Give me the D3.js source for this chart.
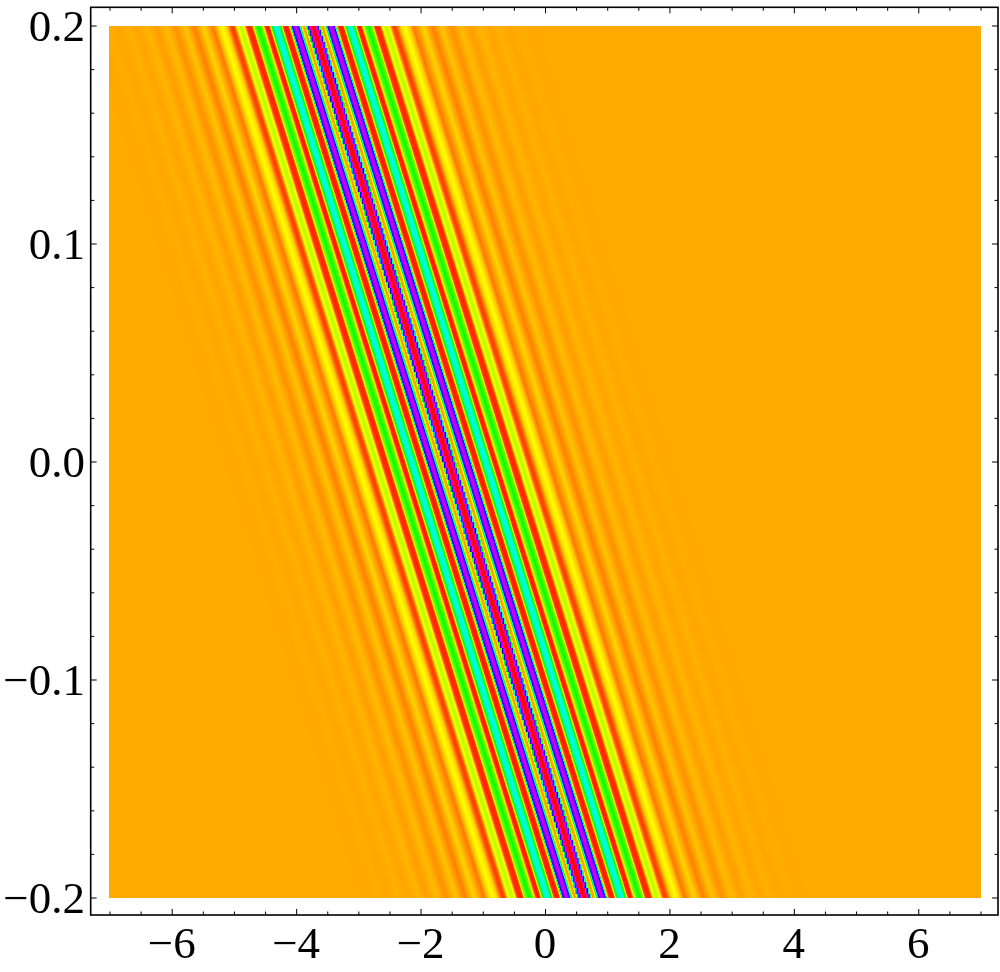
<!DOCTYPE html>
<html><head><meta charset="utf-8">
<script src="https://cdn.jsdelivr.net/npm/d3@7"></script>
<style>
html,body{margin:0;padding:0;background:#fff}
#wrap{position:relative;width:1000px;height:972px;overflow:hidden}
canvas,svg{position:absolute;left:0;top:0}
text{font-family:"Liberation Serif",serif;font-size:45px;fill:#000}
</style></head><body><div id="wrap"><canvas id="c" width="1000" height="972"></canvas><svg id="s" width="1000" height="972"></svg></div>
<script>
// Stripe profile: distance (x units) from the central stripe, and hue in degrees
const bandOffset=[0,.035,.060,.085,.108,.135,.165,.190,.235,.258,.281,.310,.340,.372,.402,.442,.482,.514,.555,.595,.635,.675,.707,.740,.772,.820,.884,.949,.985,1.029,1.073,1.109,1.166,1.222,1.270,1.302,1.334,1.399,1.471,1.543,1.608,1.768,1.913,2.058,2.219,2.363,2.524,2.669,2.830,2.974,3.135,3.296,3.457,3.618];
const bandHue=[360,350,285,240,120,35,40,70,250,278,290,278,250,70,12,5,12,100,165,172,165,100,12,5,12,90,120,90,14,8,14,60,78,60,20,14,20,50,60,48,28,50,30,46,34,44,37,42.5,38.5,41.5,39,40.7,39.5,40];
const stripeCentre=-1.55;   // x of the central stripe at y = 0
const stripeTilt=-10.9;     // change of x per unit y
const xDomain=[-7,7], yDomain=[-0.2,0.2];
const xMajor=[-6,-4,-2,0,2,4,6];
const xMinor=[-7,-6.5,-5.5,-5,-4.5,-3.5,-3,-2.5,-1.5,-1,-0.5,0.5,1,1.5,2.5,3,3.5,4.5,5,5.5,6.5,7];
const yMajor=[-0.2,-0.1,0,0.1,0.2];
const yMinor=[-0.18,-0.16,-0.14,-0.12,-0.08,-0.06,-0.04,-0.02,0.02,0.04,0.06,0.08,0.12,0.14,0.16,0.18];
const yLabels=["\u22120.2","\u22120.1","0.0","0.1","0.2"];
const xLabels=["\u22126","\u22124","\u22122","0","2","4","6"];

const x=d3.scaleLinear().domain(xDomain).range([109.5,980.5]);
const y=d3.scaleLinear().domain(yDomain).range([897.5,25.5]);
const hue=d3.scaleLinear()
  .domain([...bandOffset.slice(1).map(d=>-d).reverse(),...bandOffset])
  .range([...bandHue.slice(1).reverse(),...bandHue]).clamp(true);

const ctx=document.getElementById('c').getContext('2d');
const x0=Math.floor(x(xDomain[0])),x1=Math.ceil(x(xDomain[1])),y0=Math.ceil(y(yDomain[1])),y1=Math.ceil(y(yDomain[0]));
const img=ctx.createImageData(x1-x0,y1-y0);
for(let j=y0;j<y1;j++){for(let i=x0;i<x1;i++){
  let off=x.invert(i+.5)-(stripeCentre+stripeTilt*y.invert(j+.5));
  // the central stripe is coarsely meshed in the picture: its edges step every few rows
  if(Math.abs(off)<.12) off=x.invert(i+.5)-(stripeCentre+stripeTilt*y.invert(Math.floor(j/6)*6+3));
  const c=d3.hsl(hue(off),1,.5).rgb();
  const k=((j-y0)*(x1-x0)+(i-x0))*4;
  img.data[k]=c.r;img.data[k+1]=c.g;img.data[k+2]=c.b;img.data[k+3]=255;
}}
ctx.putImageData(img,x0,y0);

const svg=d3.select('#s');
const L=90.7,R=998,T=7.3,B=915;
function ticks(g,gen,vals,size){g.call(gen.tickValues(vals).tickSize(size).tickFormat(''));g.select('.domain').remove();g.selectAll('line').attr('stroke','#000').attr('stroke-width',1);}
[[xMajor,6],[xMinor,3.5]].forEach(([v,s])=>{
  ticks(svg.append('g').attr('transform',`translate(0,${B})`),d3.axisTop(x),v,s);
  ticks(svg.append('g').attr('transform',`translate(0,${T})`),d3.axisBottom(x),v,s);
});
[[yMajor,6],[yMinor,3.5]].forEach(([v,s])=>{
  ticks(svg.append('g').attr('transform',`translate(${L},0)`),d3.axisRight(y),v,s);
  ticks(svg.append('g').attr('transform',`translate(${R},0)`),d3.axisLeft(y),v,s);
});
svg.append('rect').attr('x',L).attr('y',T).attr('width',R-L).attr('height',B-T).attr('fill','none').attr('stroke','#000').attr('stroke-width',1.6);
svg.selectAll('.xl').data(xMajor).join('text').attr('class','xl').attr('x',d=>x(d)).attr('y',958).attr('text-anchor','middle').text((d,i)=>xLabels[i]);
svg.selectAll('.yl').data(yMajor).join('text').attr('class','yl').attr('x',85).attr('y',d=>y(d)+15).attr('text-anchor','end').text((d,i)=>yLabels[i]);
</script></body></html>
